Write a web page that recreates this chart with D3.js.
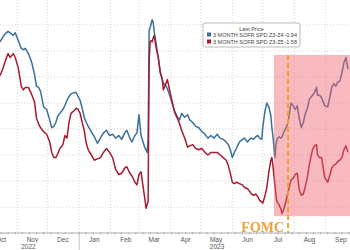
<!DOCTYPE html>
<html>
<head>
<meta charset="utf-8">
<script src="https://cdn.jsdelivr.net/npm/d3@7"></script>
<style>
  body { margin: 0; background: #fff; }
  svg { display: block; font-family: "Liberation Sans", Arial, sans-serif; }
</style>
</head>
<body>
<svg id="chart"></svg>
<script>
const width = 350, height = 250;
const axisY = 233;

const dates = [
  "2022-10-15","2022-10-18","2022-10-21","2022-10-23","2022-10-25","2022-10-28","2022-10-30",
  "2022-11-02","2022-11-05","2022-11-07","2022-11-09","2022-11-12","2022-11-15","2022-11-18",
  "2022-11-20","2022-11-22","2022-11-24","2022-11-27","2022-11-30","2022-12-03","2022-12-05",
  "2022-12-07","2022-12-09","2022-12-11","2022-12-13","2022-12-16","2022-12-18","2022-12-20",
  "2022-12-22","2022-12-24","2022-12-27","2022-12-29","2022-12-31","2023-01-02","2023-01-04",
  "2023-01-06","2023-01-08","2023-01-10","2023-01-13","2023-01-16","2023-01-19","2023-01-22",
  "2023-01-25","2023-01-28","2023-01-31","2023-02-03","2023-02-06","2023-02-09","2023-02-12",
  "2023-02-15","2023-02-17","2023-02-20","2023-02-22","2023-02-25","2023-02-27","2023-03-01",
  "2023-03-03","2023-03-05","2023-03-07","2023-03-08","2023-03-09","2023-03-10","2023-03-11",
  "2023-03-12","2023-03-13","2023-03-14","2023-03-15","2023-03-16","2023-03-18","2023-03-20",
  "2023-03-22","2023-03-24","2023-03-25","2023-03-27","2023-03-29","2023-04-01","2023-04-03",
  "2023-04-05","2023-04-08","2023-04-10","2023-04-12","2023-04-15","2023-04-18","2023-04-20",
  "2023-04-23","2023-04-26","2023-04-29","2023-05-02","2023-05-05","2023-05-08","2023-05-11",
  "2023-05-14","2023-05-17","2023-05-20","2023-05-23","2023-05-26","2023-05-28","2023-05-30",
  "2023-06-01","2023-06-03","2023-06-05","2023-06-08","2023-06-11","2023-06-13","2023-06-16",
  "2023-06-18","2023-06-20","2023-06-22","2023-06-24","2023-06-26","2023-06-28","2023-06-30",
  "2023-07-01","2023-07-03","2023-07-05","2023-07-07","2023-07-09","2023-07-10","2023-07-11",
  "2023-07-13","2023-07-14","2023-07-15","2023-07-17","2023-07-19","2023-07-20","2023-07-22",
  "2023-07-24","2023-07-26","2023-07-28","2023-07-29","2023-07-31","2023-08-02","2023-08-04",
  "2023-08-06","2023-08-08","2023-08-10","2023-08-12","2023-08-14","2023-08-16","2023-08-19",
  "2023-08-21","2023-08-23","2023-08-24","2023-08-26","2023-08-28","2023-08-31","2023-09-03",
  "2023-09-05","2023-09-07","2023-09-09","2023-09-11","2023-09-13","2023-09-15","2023-09-17",
  "2023-09-19","2023-09-21","2023-09-23"
];

// 3 MONTH SOFR SPD Z3-Z4
const spreadZ3Z4 = [
  -0.73,-0.69,-0.66,-0.65,-0.66,-0.68,-0.66,
  -0.72,-0.78,-0.79,-0.78,-0.82,-0.88,-0.98,
  -1.07,-1.08,-1.11,-1.23,-1.25,-1.33,-1.39,
  -1.38,-1.35,-1.30,-1.28,-1.25,-1.22,-1.18,
  -1.15,-1.13,-1.12,-1.12,-1.15,-1.18,-1.24,
  -1.31,-1.35,-1.38,-1.42,-1.46,-1.51,-1.47,
  -1.43,-1.41,-1.45,-1.44,-1.47,-1.45,-1.48,
  -1.43,-1.41,-1.47,-1.50,-1.45,-1.43,-1.29,
  -1.45,-1.50,-1.55,-1.56,-1.58,-1.48,-0.64,
  -0.62,-0.59,-0.56,-0.58,-0.65,-0.75,-0.85,
  -0.96,-1.02,-1.05,-1.06,-1.09,-1.16,-1.21,
  -1.26,-1.31,-1.33,-1.28,-1.31,-1.29,-1.33,
  -1.35,-1.38,-1.39,-1.42,-1.44,-1.47,-1.45,
  -1.47,-1.44,-1.47,-1.48,-1.50,-1.52,-1.56,
  -1.62,-1.58,-1.55,-1.50,-1.48,-1.47,-1.50,
  -1.48,-1.47,-1.48,-1.46,-1.45,-1.47,-1.48,
  -1.39,-1.27,-1.20,-1.23,-1.30,-1.39,-1.45,
  -1.62,-1.52,-1.48,-1.46,-1.47,-1.46,-1.42,
  -1.39,-1.35,-1.24,-1.20,-1.22,-1.25,-1.22,
  -1.32,-1.39,-1.35,-1.28,-1.24,-1.17,-1.14,
  -1.12,-1.08,-1.14,-1.14,-1.16,-1.22,-1.23,
  -1.16,-1.08,-1.05,-1.07,-1.04,-1.03,-0.97,
  -0.89,-0.85,-0.94
];

// 3 MONTH SOFR SPD Z3-Z5
const spreadZ3Z5 = [
  -0.99,-0.93,-0.86,-0.82,-0.85,-0.82,-0.85,
  -0.93,-1.07,-1.10,-1.08,-1.08,-1.13,-1.19,
  -1.32,-1.36,-1.39,-1.42,-1.44,-1.50,-1.58,
  -1.62,-1.62,-1.59,-1.55,-1.52,-1.45,-1.47,
  -1.35,-1.28,-1.26,-1.24,-1.25,-1.28,-1.35,
  -1.41,-1.51,-1.56,-1.60,-1.64,-1.63,-1.62,
  -1.58,-1.55,-1.58,-1.62,-1.71,-1.75,-1.74,
  -1.70,-1.69,-1.74,-1.76,-1.81,-1.83,-1.75,
  -1.73,-1.84,-1.95,-2.01,-1.98,-1.96,-0.87,
  -0.73,-0.72,-0.73,-0.70,-0.68,-0.78,-0.85,
  -0.97,-1.02,-1.10,-1.06,-1.02,-1.13,-1.20,
  -1.27,-1.32,-1.36,-1.41,-1.47,-1.54,-1.53,
  -1.52,-1.55,-1.56,-1.55,-1.58,-1.60,-1.58,
  -1.58,-1.58,-1.60,-1.62,-1.64,-1.68,-1.74,
  -1.81,-1.82,-1.81,-1.82,-1.83,-1.85,-1.86,
  -1.88,-1.90,-1.91,-1.90,-1.92,-1.95,-1.96,
  -1.97,-1.92,-1.85,-1.73,-1.64,-1.62,-1.68,
  -1.83,-1.91,-1.96,-1.98,-2.02,-2.05,-2.01,
  -1.95,-1.88,-1.82,-1.79,-1.78,-1.75,-1.74,
  -1.87,-1.91,-1.90,-1.84,-1.77,-1.67,-1.56,
  -1.53,-1.52,-1.60,-1.62,-1.62,-1.77,-1.81,
  -1.76,-1.70,-1.68,-1.67,-1.65,-1.64,-1.62,
  -1.56,-1.53,-1.58
];

const monthLabels = ["Oct","Nov","Dec","Jan","Feb","Mar","Apr","May","Jun","Jul","Aug","Sep"];
const monthStarts = ["2022-10-01","2022-11-01","2022-12-01","2023-01-01","2023-02-01","2023-03-01",
                     "2023-04-01","2023-05-01","2023-06-01","2023-07-01","2023-08-01","2023-09-01"];
const yearLabels = ["2022", "2023"];
const yearLabelDates = ["2022-11-12", "2023-05-17"];
const gridValues = [-0.6, -0.8, -1.0, -1.2, -1.4, -1.6, -1.8, -2.0];

const legendTitle = "Last Price";
const seriesNames = ["3 MONTH SOFR SPD Z3-Z4", "3 MONTH SOFR SPD Z3-Z5"];
const lastValues = ["-0.94", "-1.58"];
const seriesColors = ["#3b6f99", "#a51b31"];

const fomcDate = "2023-07-26";
const shadeStart = "2023-07-12";
const shadeTop = -0.83, shadeBottom = -2.07;

const parse = d3.timeParse("%Y-%m-%d");

const x = d3.scaleTime()
    .domain([parse("2022-10-15"), parse("2023-09-25")])
    .range([0, width]);
const y = d3.scaleLinear()
    .domain([-2.2, -0.4])
    .range([axisY, -1]);

const svg = d3.select("#chart")
    .attr("width", width)
    .attr("height", height);

// grid
svg.append("g").selectAll("line")
    .data(gridValues)
    .join("line")
    .attr("x1", 0).attr("x2", width)
    .attr("y1", d => y(d)).attr("y2", d => y(d))
    .attr("stroke", "#c9c9c9")
    .attr("stroke-width", 0.8)
    .attr("stroke-dasharray", "1,2");

svg.append("g").selectAll("line")
    .data(monthStarts.slice(1).map(parse))
    .join("line")
    .attr("x1", d => x(d)).attr("x2", d => x(d))
    .attr("y1", 0).attr("y2", axisY)
    .attr("stroke", "#c9c9c9")
    .attr("stroke-width", 0.8)
    .attr("stroke-dasharray", "1,2");

// series
const line = d3.line()
    .x(d => x(d.date))
    .y(d => y(d.value));

[spreadZ3Z4, spreadZ3Z5].forEach((vals, i) => {
    const pts = dates.map((d, j) => ({date: parse(d), value: vals[j]}));
    svg.append("path")
        .datum(pts)
        .attr("fill", "none")
        .attr("stroke", seriesColors[i])
        .attr("stroke-width", 1.5)
        .attr("stroke-linejoin", "round")
        .attr("d", line);
});

// shaded post-FOMC window
svg.append("rect")
    .attr("x", x(parse(shadeStart)))
    .attr("y", y(shadeTop))
    .attr("width", width - x(parse(shadeStart)))
    .attr("height", y(shadeBottom) - y(shadeTop))
    .attr("fill", "rgb(240,100,112)")
    .attr("fill-opacity", 0.45);

// FOMC marker
svg.append("line")
    .attr("x1", x(parse(fomcDate))).attr("x2", x(parse(fomcDate)))
    .attr("y1", y(shadeTop)).attr("y2", axisY)
    .attr("stroke", "#f0a030")
    .attr("stroke-width", 2)
    .attr("stroke-dasharray", "5,3");

svg.append("text")
    .attr("x", x(parse(fomcDate)) - 4)
    .attr("y", axisY - 1)
    .attr("text-anchor", "end")
    .style("font-family", "'Liberation Serif', 'DejaVu Serif', serif")
    .style("font-weight", "bold")
    .style("font-size", "14px")
    .attr("fill", "#e8a43e")
    .text("FOMC");

// x axis
svg.append("line")
    .attr("x1", 0).attr("x2", width)
    .attr("y1", axisY).attr("y2", axisY)
    .attr("stroke", "#9a9a9a")
    .attr("stroke-width", 0.8);

svg.append("g").selectAll("line")
    .data(d3.timeWeek.range(x.domain()[0], x.domain()[1]))
    .join("line")
    .attr("x1", d => x(d)).attr("x2", d => x(d))
    .attr("y1", axisY - 1).attr("y2", axisY + 1.5)
    .attr("stroke", "#9a9a9a")
    .attr("stroke-width", 0.6);

const yearBreak = x(parse("2023-01-01"));
svg.append("line")
    .attr("x1", yearBreak).attr("x2", yearBreak)
    .attr("y1", axisY).attr("y2", height)
    .attr("stroke", "#b0b0b0")
    .attr("stroke-width", 0.8);

svg.append("g").selectAll("text")
    .data(monthStarts)
    .join("text")
    .attr("x", d => x(d3.timeDay.offset(parse(d), 15)))
    .attr("y", axisY + 8.5)
    .attr("text-anchor", "middle")
    .style("font-size", "6.5px")
    .attr("fill", "#555")
    .text((d, i) => monthLabels[i]);

svg.append("g").selectAll("text")
    .data(yearLabelDates)
    .join("text")
    .attr("x", d => x(parse(d)))
    .attr("y", axisY + 15.5)
    .attr("text-anchor", "middle")
    .style("font-size", "6.5px")
    .attr("fill", "#555")
    .text((d, i) => yearLabels[i]);

// legend
const legend = svg.append("g").attr("transform", "translate(203,23)");
legend.append("rect")
    .attr("width", 97).attr("height", 24)
    .attr("rx", 2)
    .attr("fill", "#fff")
    .attr("stroke", "#a8a8a8")
    .attr("stroke-width", 0.8);
legend.append("text")
    .attr("x", 48.5).attr("y", 7.5)
    .attr("text-anchor", "middle")
    .style("font-size", "5.5px")
    .attr("fill", "#444")
    .text(legendTitle);
const items = legend.selectAll(".item")
    .data(seriesNames)
    .join("g")
    .attr("class", "item")
    .attr("transform", (d, i) => "translate(0," + (13.5 + i * 7) + ")");
items.append("rect")
    .attr("x", 4).attr("y", -4)
    .attr("width", 4).attr("height", 4)
    .attr("fill", (d, i) => seriesColors[i]);
items.append("text")
    .attr("x", 10).attr("y", 0)
    .style("font-size", "5.5px")
    .attr("fill", "#444")
    .text(d => d);
items.append("text")
    .attr("x", 94).attr("y", 0)
    .attr("text-anchor", "end")
    .style("font-size", "5.5px")
    .attr("fill", "#444")
    .text((d, i) => lastValues[i]);
</script>
</body>
</html>
